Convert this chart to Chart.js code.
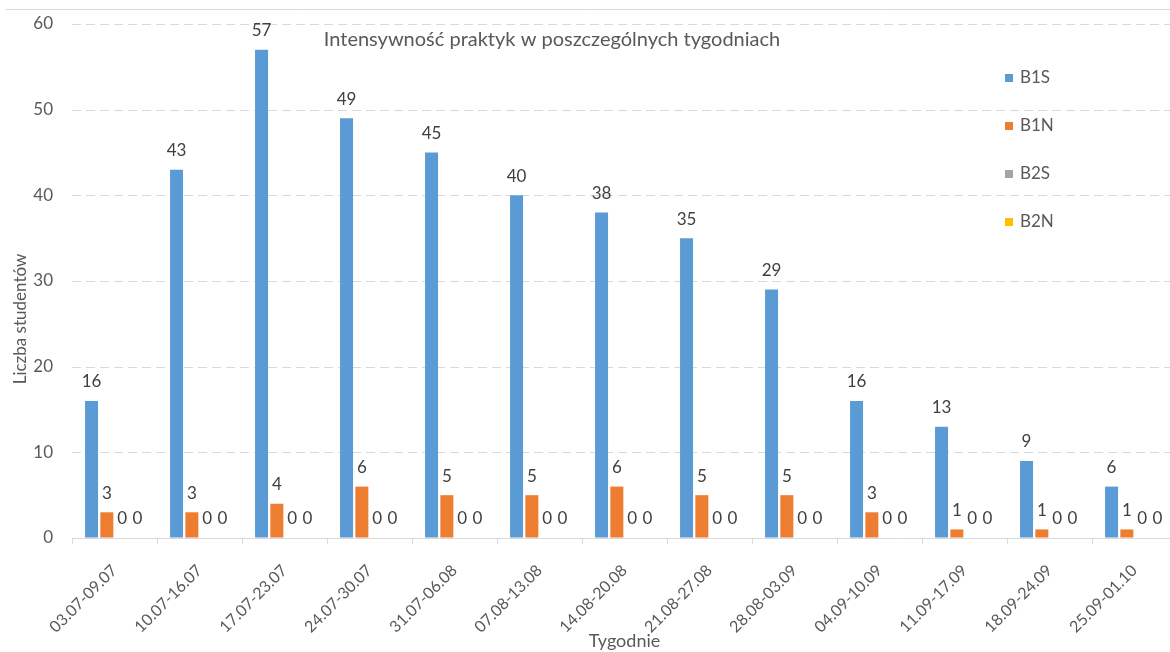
<!DOCTYPE html>
<html>
<head>
<meta charset="utf-8">
<script src="https://cdn.jsdelivr.net/npm/chart.js@4"></script>
<style>
html,body{margin:0;padding:0;background:#fff;overflow:hidden;}
#wrap{width:1177px;height:652px;position:relative;}
</style>
</head>
<body>
<div id="wrap"><canvas id="c"></canvas></div>
<script>
const categories = ["03.07-09.07","10.07-16.07","17.07-23.07","24.07-30.07","31.07-06.08","07.08-13.08","14.08-20.08","21.08-27.08","28.08-03.09","04.09-10.09","11.09-17.09","18.09-24.09","25.09-01.10"];
const seriesNames = ["B1S","B1N","B2S","B2N"];
const b1s = [16,43,57,49,45,40,38,35,29,16,13,9,6];
const b1n = [3,3,4,6,5,5,6,5,5,3,1,1,1];
const b2s = [0,0,0,0,0,0,0,0,0,0,0,0,0];
const b2n = [0,0,0,0,0,0,0,0,0,0,0,0,0];
const colors = ["#5B9BD5","#ED7D31","#A5A5A5","#FFC000"];
const chartTitle = "Intensywność praktyk w poszczególnych tygodniach";
const xTitle = "Tygodnie";
const yTitle = "Liczba studentów";

const FONT = "Lato, 'Liberation Sans', sans-serif";
const TXT = "#595959";

const overlay = {
  id: 'overlay',
  beforeDatasetsDraw(chart) {
    const ctx = chart.ctx;
    const ys = chart.scales.y;
    const ca = chart.chartArea;
    ctx.save();
    ctx.strokeStyle = "#d9d9d9";
    ctx.lineWidth = 1;
    ctx.setLineDash([9, 5]);
    ys.ticks.forEach(t => {
      if (t.value === 0) return;
      const y = Math.round(ys.getPixelForValue(t.value)) + 0.5;
      ctx.beginPath();
      ctx.moveTo(ca.left, y);
      ctx.lineTo(ca.right, y);
      ctx.stroke();
    });
    ctx.restore();
  },
  afterDatasetsDraw(chart) {
    const ctx = chart.ctx;
    ctx.save();
    ctx.font = "17px " + FONT;
    ctx.fillStyle = "#404040";
    ctx.textAlign = "center";
    ctx.textBaseline = "middle";
    chart.data.datasets.forEach((ds, i) => {
      const meta = chart.getDatasetMeta(i);
      meta.data.forEach((el, j) => {
        ctx.fillText(String(ds.data[j]), el.x, el.y - 19);
      });
    });
    ctx.font = "20px " + FONT;
    ctx.fillStyle = TXT;
    ctx.fillText(chartTitle, 552, 40);
    ctx.save();
    ctx.translate(21, 319);
    ctx.rotate(-Math.PI / 2);
    ctx.font = "17px " + FONT;
    ctx.fillText(yTitle, 0, 0);
    ctx.restore();
    ctx.font = "17px " + FONT;
    ctx.textAlign = "left";
    chart.data.datasets.forEach((ds, i) => {
      const y = 78 + i * 48;
      ctx.fillStyle = ds.backgroundColor;
      ctx.fillRect(1005, y - 4, 8, 8);
      ctx.fillStyle = TXT;
      ctx.fillText(ds.label, 1020, y);
    });
    ctx.strokeStyle = "#d9d9d9";
    ctx.lineWidth = 1;
    ctx.beginPath();
    ctx.moveTo(6, 9.5);
    ctx.lineTo(1177, 9.5);
    ctx.stroke();
    ctx.restore();
  }
};

new Chart(document.getElementById('c'), {
  type: 'bar',
  data: {
    labels: categories,
    datasets: [b1s, b1n, b2s, b2n].map((d, i) => ({
      label: seriesNames[i],
      data: d,
      backgroundColor: colors[i],
      borderWidth: 0,
      categoryPercentage: 0.72,
      barPercentage: 0.85
    }))
  },
  options: {
    responsive: true,
    maintainAspectRatio: false,
    animation: false,
    layout: { padding: { top: 24, left: 0, right: 0, bottom: 0 } },
    plugins: {
      legend: { display: false },
      title: { display: false },
      tooltip: { enabled: false }
    },
    scales: {
      x: {
        offset: true,
        grid: {
          display: true, offset: true, drawOnChartArea: false, drawTicks: true,
          tickLength: 6, color: "#d9d9d9"
        },
        border: { display: true, color: "#d9d9d9", width: 1 },
        ticks: {
          color: TXT, font: { family: FONT, size: 16 },
          minRotation: 45, maxRotation: 45, autoSkip: false, padding: 17
        },
        title: {
          display: true, text: xTitle, color: TXT,
          font: { family: FONT, size: 18 }, padding: { top: 0, bottom: 0 }
        },
        afterFit(scale) {
          scale.height = 114;
          scale.paddingLeft = 0; scale.paddingRight = 0;
        }
      },
      y: {
        min: 0, max: 60,
        ticks: { stepSize: 10, color: TXT, font: { family: FONT, size: 17 }, padding: 19 },
        grid: { display: true, drawOnChartArea: false, drawTicks: false },
        border: { display: false },
        afterFit(scale) {
          scale.width = 72;
          scale.paddingTop = 0; scale.paddingBottom = 0;
        }
      }
    }
  },
  plugins: [overlay]
});
</script>
</body>
</html>
